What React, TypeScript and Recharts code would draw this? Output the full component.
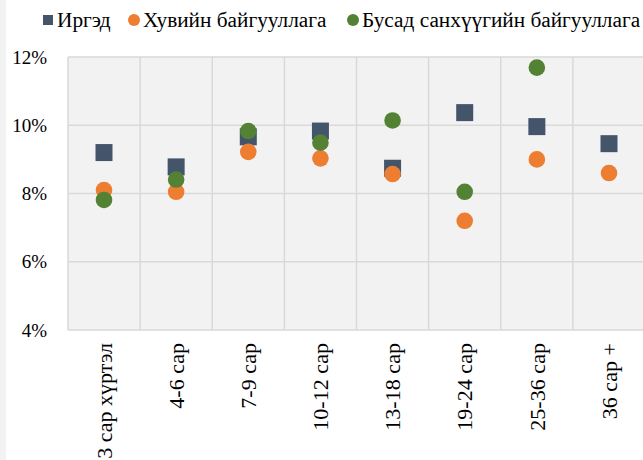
import { CartesianGrid, ComposedChart, Scatter, XAxis, YAxis } from "recharts";

const categories = [
  "3 сар хүртэл",
  "4-6 сар",
  "7-9 сар",
  "10-12 сар",
  "13-18 сар",
  "19-24 сар",
  "25-36 сар",
  "36 сар +",
];

const irged = [9.2, 8.78, 9.66, 9.83, 8.74, 10.37, 9.96, 9.46];
const khuviin = [8.1, 8.05, 9.22, 9.03, 8.57, 7.2, 9.0, 8.6];
const busad = [7.81, 8.41, 9.83, 9.49, 10.14, 8.05, 11.69, null];

const yTicks = [4, 6, 8, 10, 12];

const series = [
  { key: "irged", name: "Иргэд", color: "#44546A", shape: "square" },
  { key: "khuviin", name: "Хувийн байгууллага", color: "#ED7D31", shape: "circle" },
  { key: "busad", name: "Бусад санхүүгийн байгууллага", color: "#548235", shape: "circle" },
];

// legend item left edges, like the excel legend
const legendLeft = [43, 128, 347];

const data = categories.map((name, i) => ({
  name,
  irged: irged[i],
  khuviin: khuviin[i],
  busad: busad[i],
}));

const FONT = "Liberation Serif";

const squareShape = (color: string) => (props: any) => {
  const { cx, cy } = props;
  if (cx == null || cy == null || isNaN(cy)) return <g />;
  return <rect x={cx - 8.5} y={cy - 8.5} width={17} height={17} fill={color} />;
};

const circleShape = (color: string) => (props: any) => {
  const { cx, cy } = props;
  if (cx == null || cy == null || isNaN(cy)) return <g />;
  return <circle cx={cx} cy={cy} r={8.3} fill={color} />;
};

const XTick = (props: any) => {
  const { x, y, payload } = props;
  return (
    <text
      x={x}
      y={y}
      transform={`rotate(-90, ${x}, ${y})`}
      textAnchor="end"
      dy="0.35em"
      fontSize={22}
      fontFamily={FONT}
      fill="#000"
    >
      {payload.value}
    </text>
  );
};

function ChartLegend() {
  return (
    <>
      {series.map((s, i) => (
        <div
          key={s.key}
          style={{
            position: "absolute",
            top: 8,
            left: legendLeft[i],
            display: "flex",
            alignItems: "center",
            fontFamily: FONT,
            fontSize: 21.3,
            lineHeight: "24px",
            whiteSpace: "nowrap",
            color: "#000",
          }}
        >
          <span
            style={{
              display: "inline-block",
              width: s.shape === "square" ? 10 : 12,
              height: s.shape === "square" ? 10 : 12,
              borderRadius: s.shape === "square" ? 0 : "50%",
              background: s.color,
              marginRight: s.shape === "square" ? 4 : 3,
            }}
          />
          <span>{s.name}</span>
        </div>
      ))}
    </>
  );
}

export default function App() {
  return (
    <div
      style={{
        position: "absolute",
        left: 0,
        top: 0,
        width: 643,
        height: 460,
        overflow: "hidden",
        background: "#fff",
      }}
    >
      <div style={{ position: "absolute", left: 0, top: 0, width: 6, height: 460, background: "#F2F2F2" }} />
      <ChartLegend />
      <ComposedChart width={646} height={460} data={data} margin={{ top: 57, right: 1, bottom: 0, left: 0 }}>
        <CartesianGrid
          fill="#F2F2F2"
          stroke="#D9D9D9"
          strokeWidth={1.5}
          verticalCoordinatesGenerator={({ offset }: any) =>
            [...categories, ""].map((_, i) => offset.left + (i * offset.width) / categories.length)
          }
        />
        <XAxis
          dataKey="name"
          type="category"
          scale="point"
          padding={{ left: 36, right: 36 }}
          interval={0}
          height={130}
          tickLine={false}
          axisLine={false}
          tickSize={0}
          tickMargin={13}
          tick={<XTick />}
        />
        <YAxis
          type="number"
          domain={[4, 12]}
          ticks={yTicks}
          width={68}
          tickLine={false}
          axisLine={false}
          tickSize={0}
          tickMargin={21}
          tickFormatter={(v: number) => `${v}%`}
          tick={{ fontSize: 19, fill: "#000", fontFamily: FONT }}
        />
        {series.map((s) => (
          <Scatter
            key={s.key}
            dataKey={s.key}
            name={s.name}
            fill={s.color}
            shape={s.shape === "square" ? squareShape(s.color) : circleShape(s.color)}
            isAnimationActive={false}
          />
        ))}
      </ComposedChart>
    </div>
  );
}
